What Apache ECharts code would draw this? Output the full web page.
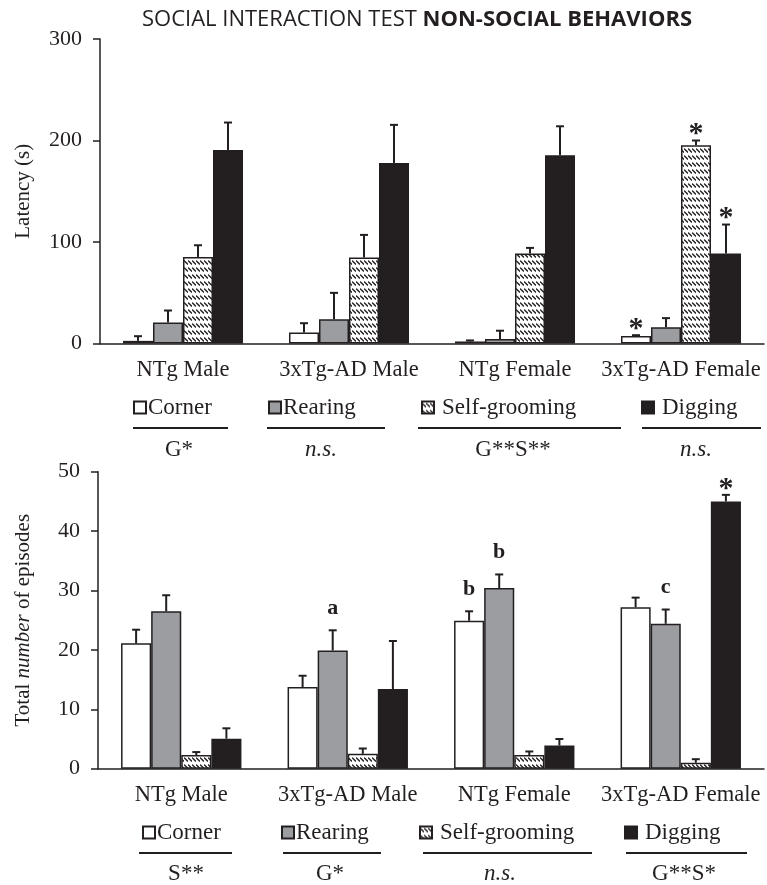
<!DOCTYPE html>
<html><head><meta charset="utf-8">
<script src="https://cdn.jsdelivr.net/npm/echarts@6.0.0/dist/echarts.min.js"></script>
<style>html,body{margin:0;padding:0;background:#fff}#c{width:767px;height:885px}</style>
</head><body><div id="c"></div>
<script>
// ---------- DATA ----------
const categories = ['NTg Male', '3xTg-AD Male', 'NTg Female', '3xTg-AD Female'];
const behaviors = ['Corner', 'Rearing', 'Self-grooming', 'Digging'];

// Latency (s): means and upward SEM
const latCorner   = [2.6, 10.8, 2.0, 7.5];
const latRearing  = [20.7, 23.9, 4.4, 16.0];
const latSelf     = [85.3, 84.7, 88.7, 195.4];
const latDigging  = [190.7, 177.9, 185.5, 88.7];
const latCornerErr  = [4.6, 9.2, 1.0, 0.7];
const latRearingErr = [11.8, 26.0, 8.2, 9.0];
const latSelfErr    = [11.5, 22.3, 5.5, 4.6];
const latDiggingErr = [27.0, 37.5, 28.5, 28.5];
const latTicks = [0, 100, 200, 300];

// Total number of episodes: means and upward SEM
const epiCorner   = [21.1, 13.75, 24.9, 27.2];
const epiRearing  = [26.5, 19.9, 30.4, 24.4];
const epiSelf     = [2.3, 2.5, 2.3, 1.0];
const epiDigging  = [5.05, 13.4, 3.9, 45.0];
const epiCornerErr  = [2.3, 1.9, 1.6, 1.6];
const epiRearingErr = [2.7, 3.4, 2.3, 2.4];
const epiSelfErr    = [0.5, 0.9, 0.6, 0.6];
const epiDiggingErr = [1.75, 8.1, 1.1, 1.1];
const epiTicks = [0, 10, 20, 30, 40, 50];

// significance marks: [category index, behavior index, text]
const latMarks = [[3, 0, '*'], [3, 2, '*'], [3, 3, '*']];
const epiMarks = [[1, 1, 'a'], [2, 0, 'b'], [2, 1, 'b'], [3, 1, 'c'], [3, 3, '*']];

// statistics under the legends
const latStats = ['G*', 'n.s.', 'G**S**', 'n.s.'];
const epiStats = ['S**', 'G*', 'n.s.', 'G**S*'];

// ---------- STYLE / LAYOUT ----------
const INK = '#231f20';
const SERIF = 'Liberation Serif';
const GAP = 0.277;

function hatchPattern() {
  const c = document.createElement('canvas');
  c.width = 4; c.height = 7;
  const g = c.getContext('2d');
  g.fillStyle = '#fff'; g.fillRect(0, 0, 4, 7);
  g.strokeStyle = INK; g.lineWidth = 1.3;
  g.beginPath(); g.moveTo(0, 1.5); g.lineTo(4, 5.5); g.stroke();
  return c;
}
const fills = ['#ffffff', '#9c9da0', { image: hatchPattern(), repeat: 'repeat' }, INK];

const latMeans = [latCorner, latRearing, latSelf, latDigging];
const latErrs = [latCornerErr, latRearingErr, latSelfErr, latDiggingErr];
const epiMeans = [epiCorner, epiRearing, epiSelf, epiDigging];
const epiErrs = [epiCornerErr, epiRearingErr, epiSelfErr, epiDiggingErr];

function barSeries(means, axis) {
  return behaviors.map((b, i) => ({
    type: 'bar', name: b, xAxisIndex: axis, yAxisIndex: axis,
    data: means[i], barGap: '0%', barCategoryGap: (GAP * 100) + '%',
    itemStyle: { color: fills[i], borderColor: INK, borderWidth: 1.5 },
    emphasis: { disabled: true }, z: 2
  }));
}

function barX(api, cat, s) {
  const band = api.size([1, 0])[0];
  const bw = band * (1 - GAP) / 4;
  return api.coord([cat, 0])[0] + (s - 1.5) * bw;
}

function errSeries(means, errs, axis) {
  const data = [];
  means.forEach((arr, s) => arr.forEach((v, c) => data.push([c, s, v, errs[s][c]])));
  return {
    type: 'custom', xAxisIndex: axis, yAxisIndex: axis, silent: true, z: 3,
    encode: { x: 0, y: 2 }, data,
    renderItem: (p, api) => {
      const c = api.value(0), s = api.value(1), v = api.value(2), e = api.value(3);
      const x = barX(api, c, s);
      const y0 = api.coord([c, v])[1];
      const y1 = api.coord([c, v + e])[1];
      return { type: 'group', children: [
        { type: 'line', shape: { x1: x, y1: y0, x2: x, y2: y1 }, style: { stroke: INK, lineWidth: 2 } },
        { type: 'line', shape: { x1: x - 4, y1: y1, x2: x + 4, y2: y1 }, style: { stroke: INK, lineWidth: 2 } }
      ] };
    }
  };
}

function markSeries(marks, means, errs, axis) {
  const data = marks.map(m => [m[0], m[1], means[m[1]][m[0]] + errs[m[1]][m[0]], m[2]]);
  return {
    type: 'custom', xAxisIndex: axis, yAxisIndex: axis, silent: true, z: 4,
    encode: { x: 0, y: 2 }, data,
    renderItem: (p, api) => {
      const c = api.value(0), s = api.value(1), top = api.value(2);
      const txt = data[p.dataIndex][3];
      const x = barX(api, c, s);
      const y = api.coord([c, top])[1];
      const star = txt === '*';
      return { type: 'text', x: x, y: star ? y - 6 : y - 11,
        style: { text: txt, fontFamily: SERIF, fontWeight: 'bold',
          fontSize: star ? 30 : 22, fill: INK, align: 'center', verticalAlign: star ? 'middle' : 'bottom' } };
    }
  };
}

function legends(xs, top) {
  return behaviors.map((b, i) => ({
    data: [b], left: xs[i], top: top, padding: 0, icon: 'rect',
    itemWidth: 12, itemHeight: 12, itemGap: 0, selectedMode: false,
    textStyle: { fontFamily: SERIF, fontSize: 23, color: INK, padding: [0, 0, 0, i < 2 ? -3 : 3] }
  }));
}

function statGraphics(stats, lines, centers, yLine, yText) {
  const g = [];
  lines.forEach(l => g.push({ type: 'line', shape: { x1: l[0], y1: yLine, x2: l[1], y2: yLine },
    style: { stroke: INK, lineWidth: 2 } }));
  stats.forEach((s, i) => g.push({ type: 'text', x: centers[i], y: yText,
    style: { text: s, fontFamily: SERIF, fontSize: 23, fontStyle: s === 'n.s.' ? 'italic' : 'normal',
      fill: INK, align: 'center', verticalAlign: 'middle' } }));
  return g;
}

const axisLineStyle = { lineStyle: { color: INK, width: 1.5 } };

const option = {
  animation: false,
  backgroundColor: '#fff',
  title: {
    text: '{a|SOCIAL INTERACTION TEST }{b|NON-SOCIAL BEHAVIORS}',
    left: 137, top: 4,
    textStyle: { rich: {
      a: { fontFamily: 'Open Sans', fontSize: 22, fontWeight: 'normal', color: INK },
      b: { fontFamily: 'Open Sans', fontSize: 22, fontWeight: 'bold', color: INK }
    } }
  },
  grid: [
    { left: 100, right: 3, top: 39, height: 304.5 },
    { left: 98, right: 3, top: 471.7, height: 297 }
  ],
  xAxis: [0, 1].map(i => ({
    type: 'category', gridIndex: i, data: categories,
    axisLine: axisLineStyle,
    axisTick: { length: 6, lineStyle: { color: INK, width: 1.5 } },
    axisLabel: { interval: 0, hideOverlap: false, fontFamily: SERIF, fontSize: 22.5, color: INK, margin: 15 }
  })),
  yAxis: [
    { type: 'value', gridIndex: 0, min: latTicks[0], max: latTicks[latTicks.length - 1], interval: 100,
      name: 'Latency (s)', nameLocation: 'middle', nameGap: 66,
      nameTextStyle: { fontFamily: SERIF, fontSize: 21, color: INK },
      axisLine: { show: true, lineStyle: { color: INK, width: 1.5 } },
      axisTick: { show: true, length: 7, lineStyle: { color: INK, width: 1.5 } },
      axisLabel: { fontFamily: SERIF, fontSize: 22, color: INK, margin: 18 },
      splitLine: { show: false } },
    { type: 'value', gridIndex: 1, min: epiTicks[0], max: epiTicks[epiTicks.length - 1], interval: 10,
      name: '{n|Total }{i|number}{n| of episodes}', nameLocation: 'middle', nameGap: 64,
      nameTextStyle: { rich: {
        n: { fontFamily: SERIF, fontSize: 21, color: INK },
        i: { fontFamily: SERIF, fontSize: 21, fontStyle: 'italic', color: INK } } },
      axisLine: { show: true, lineStyle: { color: INK, width: 1.5 } },
      axisTick: { show: true, length: 7, lineStyle: { color: INK, width: 1.5 } },
      axisLabel: { fontFamily: SERIF, fontSize: 22, color: INK, margin: 18 },
      splitLine: { show: false } }
  ],
  legend: legends([133, 268, 421, 641], 396).concat(legends([142, 281, 419, 624], 821)),
  graphic: statGraphics(latStats, [[133, 228], [267, 385], [418, 621], [642, 761]], [179, 321, 513, 696], 428, 450)
    .concat(statGraphics(epiStats, [[139, 232], [283, 381], [423, 592], [626, 747]], [186, 330, 500, 684], 853, 874)),
  series: [
    ...barSeries(latMeans, 0), errSeries(latMeans, latErrs, 0), markSeries(latMarks, latMeans, latErrs, 0),
    ...barSeries(epiMeans, 1), errSeries(epiMeans, epiErrs, 1), markSeries(epiMarks, epiMeans, epiErrs, 1)
  ]
};

const chart = echarts.init(document.getElementById('c'), null, { renderer: 'canvas' });
chart.setOption(option);
</script>
</body></html>
